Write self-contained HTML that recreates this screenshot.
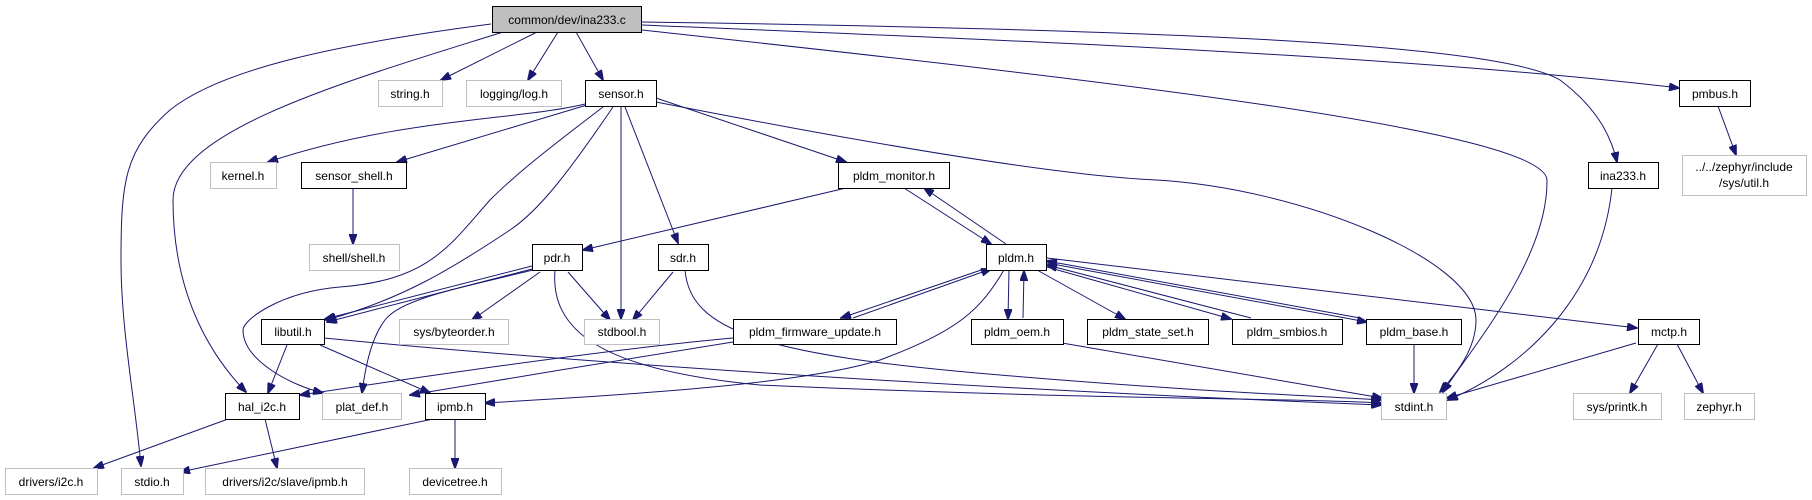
<!DOCTYPE html>
<html><head><meta charset="utf-8"><style>
html,body{margin:0;padding:0;background:#fff;}
svg{display:block;}
text{font-family:"Liberation Sans",Arial,sans-serif;font-size:12px;fill:#000;text-anchor:middle;}
.n{fill:#fff;stroke:#000;stroke-width:1;}
.g{fill:#fff;stroke:#bfbfbf;stroke-width:1;}
.e{fill:none;stroke:#191970;stroke-width:1;}
</style></head><body>
<svg width="1812" height="500" viewBox="0 0 1812 500" xmlns="http://www.w3.org/2000/svg">
<defs><marker id="a" markerWidth="11" markerHeight="8" refX="10" refY="4" orient="auto" markerUnits="userSpaceOnUse"><path d="M0,0 L11,4 L0,8 z" fill="#191970" stroke="#191970"/></marker></defs>
<g class="e" marker-end="url(#a)">
<path d="M537,32 L441,80"/>
<path d="M558,32 L528,80"/>
<path d="M576,32 L603,80"/>
<path d="M491,24 C330,45 220,70 170,110 C125,150 121,180 121,260 C121,330 135,400 141,466"/>
<path d="M503,32 C350,80 173,130 173,200 C173,300 215,360 246,392"/>
<path d="M642,25 C1000,40 1400,55 1679,88"/>
<path d="M642,22 C1200,30 1500,45 1560,80 C1600,110 1612,140 1617,162"/>
<path d="M642,30 C1100,80 1545,130 1547,180 C1548,260 1470,350 1443,392"/>
<path d="M1718,106 L1736,155"/>
<path d="M585,104 C520,120 400,118 268,162"/>
<path d="M587,105 L397,162"/>
<path d="M656,98 L846,162"/>
<path d="M656,102 C850,140 1050,175 1156,180 C1300,188 1476,260 1476,320 C1476,350 1455,375 1440,392"/>
<path d="M621,107 L621,319"/>
<path d="M625,107 L678,243"/>
<path d="M603,107 C560,140 520,170 490,200 C450,245 430,280 340,287 C280,292 243,320 243,330 C243,360 290,385 323,393"/>
<path d="M613,107 C570,170 540,210 510,230 C450,270 400,300 326,320"/>
<path d="M353,188 L353,244"/>
<path d="M846,188 L583,250"/>
<path d="M904,188 L991,244"/>
<path d="M1006,244 L924,188"/>
<path d="M532,266 L325,319"/>
<path d="M532,269 L327,322"/>
<path d="M540,272 L472,320"/>
<path d="M533,270 C450,290 400,300 385,320 C370,340 365,370 362,393"/>
<path d="M568,272 L610,320"/>
<path d="M555,270 C550,330 600,370 760,385 C1100,400 1300,398 1381,403"/>
<path d="M673,272 L633,320"/>
<path d="M685,270 C690,330 760,355 1000,375 C1200,392 1320,396 1381,400"/>
<path d="M287,345 L268,393"/>
<path d="M320,345 L430,393"/>
<path d="M324,338 C600,365 1000,390 1381,405"/>
<path d="M1004,270 C980,310 960,330 880,360 C800,385 620,395 485,403"/>
<path d="M987,268 L841,318"/>
<path d="M853,318 L991,269"/>
<path d="M1009,270 L1008,319"/>
<path d="M1023,318 L1024,271"/>
<path d="M1037,270 L1125,319"/>
<path d="M1047,267 L1231,319"/>
<path d="M1251,318 L1047,265"/>
<path d="M1047,263 L1367,322"/>
<path d="M1360,318 L1047,261"/>
<path d="M1047,258 L1637,328"/>
<path d="M733,338 C600,350 400,380 300,395"/>
<path d="M733,342 C650,355 500,380 410,395"/>
<path d="M1062,343 L1382,398"/>
<path d="M1414,345 L1414,393"/>
<path d="M1612,188 C1600,300 1520,370 1448,400"/>
<path d="M1636,343 L1447,398"/>
<path d="M1658,344 L1630,393"/>
<path d="M1677,344 L1703,393"/>
<path d="M228,419 L94,468"/>
<path d="M265,419 L277,468"/>
<path d="M433,419 L180,472"/>
<path d="M455,419 L455,468"/>
</g>
<rect x="492.5" y="6.5" width="149" height="26" fill="#bfbfbf" stroke="#000"/><text x="567" y="24">common/dev/ina233.c</text>
<rect class="g" x="378.5" y="80.5" width="64" height="26"/><text x="410" y="98">string.h</text>
<rect class="g" x="466.5" y="80.5" width="95" height="26"/><text x="514" y="98">logging/log.h</text>
<rect class="n" x="585.5" y="80.5" width="71" height="26"/><text x="621" y="98">sensor.h</text>
<rect class="n" x="1679.5" y="80.5" width="71" height="26"/><text x="1715" y="98">pmbus.h</text>
<rect class="g" x="1682.5" y="155.5" width="124" height="40"/><text x="1744" y="171">../../zephyr/include</text><text x="1744" y="187">/sys/util.h</text>
<rect class="g" x="210.5" y="162.5" width="66" height="26"/><text x="243" y="180">kernel.h</text>
<rect class="n" x="301.5" y="162.5" width="105" height="26"/><text x="354" y="180">sensor_shell.h</text>
<rect class="n" x="838.5" y="162.5" width="111" height="26"/><text x="894" y="180">pldm_monitor.h</text>
<rect class="n" x="1588.5" y="162.5" width="70" height="26"/><text x="1623" y="180">ina233.h</text>
<rect class="g" x="309.5" y="244.5" width="90" height="26"/><text x="354" y="262">shell/shell.h</text>
<rect class="n" x="532.5" y="244.5" width="50" height="26"/><text x="557" y="262">pdr.h</text>
<rect class="n" x="658.5" y="244.5" width="50" height="26"/><text x="683" y="262">sdr.h</text>
<rect class="n" x="986.5" y="244.5" width="60" height="26"/><text x="1016" y="262">pldm.h</text>
<rect class="n" x="261.5" y="319.5" width="63" height="25"/><text x="293" y="336">libutil.h</text>
<rect class="g" x="399.5" y="319.5" width="109" height="25"/><text x="454" y="336">sys/byteorder.h</text>
<rect class="g" x="584.5" y="319.5" width="75" height="25"/><text x="622" y="336">stdbool.h</text>
<rect class="n" x="733.5" y="319.5" width="163" height="25"/><text x="815" y="336">pldm_firmware_update.h</text>
<rect class="n" x="971.5" y="319.5" width="92" height="25"/><text x="1017" y="336">pldm_oem.h</text>
<rect class="n" x="1087.5" y="319.5" width="121" height="25"/><text x="1148" y="336">pldm_state_set.h</text>
<rect class="n" x="1232.5" y="319.5" width="110" height="25"/><text x="1287" y="336">pldm_smbios.h</text>
<rect class="n" x="1366.5" y="319.5" width="95" height="25"/><text x="1414" y="336">pldm_base.h</text>
<rect class="n" x="1638.5" y="319.5" width="61" height="25"/><text x="1669" y="336">mctp.h</text>
<rect class="n" x="225.5" y="393.5" width="74" height="26"/><text x="262" y="411">hal_i2c.h</text>
<rect class="g" x="322.5" y="393.5" width="79" height="26"/><text x="362" y="411">plat_def.h</text>
<rect class="n" x="425.5" y="393.5" width="60" height="26"/><text x="455" y="411">ipmb.h</text>
<rect class="g" x="1381.5" y="393.5" width="65" height="26"/><text x="1414" y="411">stdint.h</text>
<rect class="g" x="1573.5" y="393.5" width="88" height="26"/><text x="1617" y="411">sys/printk.h</text>
<rect class="g" x="1684.5" y="393.5" width="70" height="26"/><text x="1719" y="411">zephyr.h</text>
<rect class="g" x="5.5" y="468.5" width="92" height="26"/><text x="51" y="486">drivers/i2c.h</text>
<rect class="g" x="121.5" y="468.5" width="62" height="26"/><text x="152" y="486">stdio.h</text>
<rect class="g" x="205.5" y="468.5" width="159" height="26"/><text x="285" y="486">drivers/i2c/slave/ipmb.h</text>
<rect class="g" x="409.5" y="468.5" width="92" height="26"/><text x="455" y="486">devicetree.h</text>
</svg>
</body></html>
